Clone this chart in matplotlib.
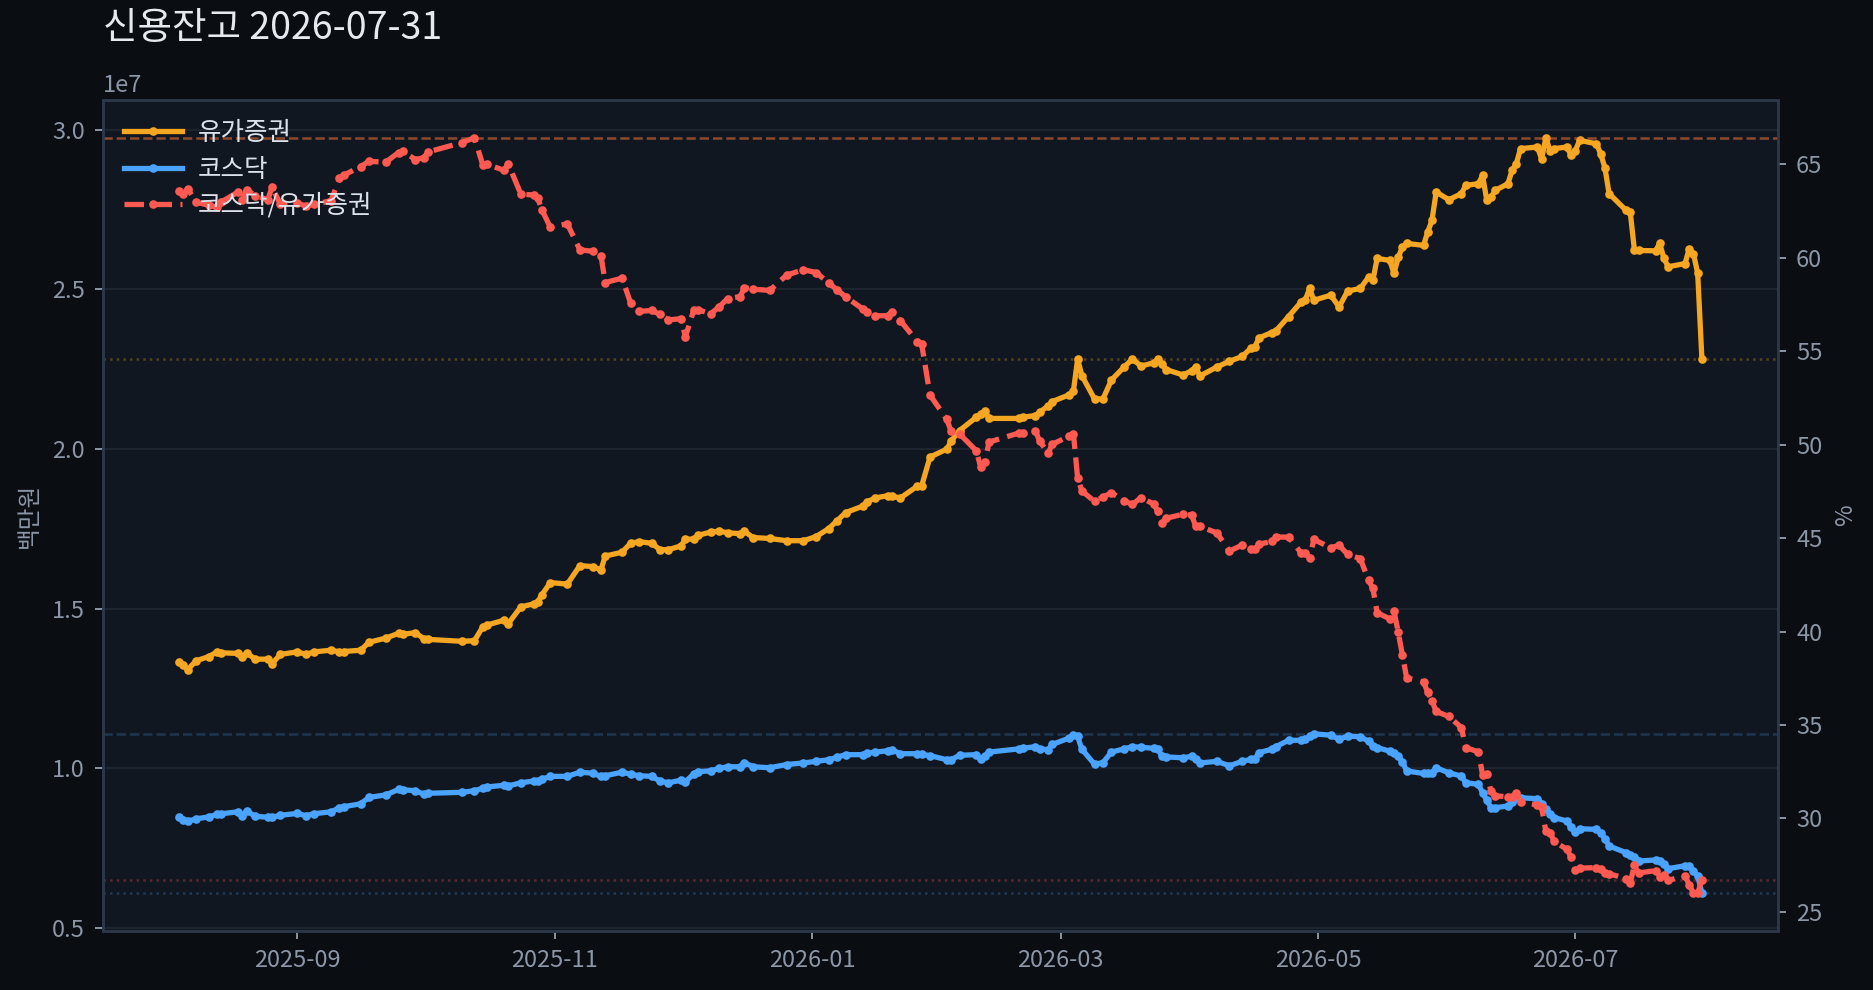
import matplotlib
matplotlib.use("Agg")
import matplotlib.pyplot as plt
import matplotlib.dates as mdates
import numpy as np
import pandas as pd

plt.rcParams['font.family'] = ['Noto Sans CJK KR', 'DejaVu Sans']
plt.rcParams['axes.unicode_minus'] = False

# ---- data (values in 1e7 백만원) ----
dates = [
    "2025-08-04", "2025-08-05", "2025-08-06", "2025-08-08", "2025-08-11", "2025-08-13", "2025-08-14",
    "2025-08-18", "2025-08-19", "2025-08-20", "2025-08-22", "2025-08-25", "2025-08-26", "2025-08-28",
    "2025-09-01", "2025-09-03", "2025-09-05", "2025-09-09", "2025-09-11", "2025-09-12", "2025-09-16",
    "2025-09-18", "2025-09-22", "2025-09-25", "2025-09-26", "2025-09-29", "2025-10-01", "2025-10-02",
    "2025-10-10", "2025-10-13", "2025-10-15", "2025-10-16", "2025-10-20", "2025-10-21", "2025-10-24",
    "2025-10-27", "2025-10-28", "2025-10-29", "2025-10-31", "2025-11-04", "2025-11-07", "2025-11-10",
    "2025-11-12", "2025-11-13", "2025-11-17", "2025-11-19", "2025-11-21", "2025-11-24", "2025-11-26",
    "2025-11-28", "2025-12-01", "2025-12-02", "2025-12-04", "2025-12-05", "2025-12-08", "2025-12-10",
    "2025-12-12", "2025-12-15", "2025-12-16", "2025-12-18", "2025-12-22", "2025-12-26", "2025-12-30",
    "2026-01-02", "2026-01-05", "2026-01-07", "2026-01-09", "2026-01-13", "2026-01-14", "2026-01-16",
    "2026-01-19", "2026-01-20", "2026-01-22", "2026-01-26", "2026-01-27", "2026-01-29", "2026-02-02",
    "2026-02-03", "2026-02-05", "2026-02-09", "2026-02-10", "2026-02-11", "2026-02-12", "2026-02-19",
    "2026-02-20", "2026-02-23", "2026-02-24", "2026-02-26", "2026-02-27", "2026-03-03", "2026-03-04",
    "2026-03-05", "2026-03-06", "2026-03-09", "2026-03-11", "2026-03-13", "2026-03-16", "2026-03-18",
    "2026-03-20", "2026-03-23", "2026-03-24", "2026-03-25", "2026-03-26", "2026-03-30", "2026-04-01",
    "2026-04-02", "2026-04-03", "2026-04-07", "2026-04-10", "2026-04-13", "2026-04-15", "2026-04-16",
    "2026-04-17", "2026-04-20", "2026-04-21", "2026-04-24", "2026-04-27", "2026-04-28", "2026-04-29",
    "2026-04-30", "2026-05-04", "2026-05-06", "2026-05-08", "2026-05-11", "2026-05-13", "2026-05-14",
    "2026-05-15", "2026-05-18", "2026-05-19", "2026-05-20", "2026-05-21", "2026-05-22", "2026-05-26",
    "2026-05-27", "2026-05-28", "2026-05-29", "2026-06-01", "2026-06-04", "2026-06-05", "2026-06-08",
    "2026-06-09", "2026-06-10", "2026-06-11", "2026-06-12", "2026-06-15", "2026-06-16", "2026-06-17",
    "2026-06-18", "2026-06-22", "2026-06-23", "2026-06-24", "2026-06-25", "2026-06-26", "2026-06-29",
    "2026-06-30", "2026-07-01", "2026-07-02", "2026-07-06", "2026-07-07", "2026-07-08", "2026-07-09",
    "2026-07-13", "2026-07-14", "2026-07-15", "2026-07-16", "2026-07-20", "2026-07-21", "2026-07-22",
    "2026-07-23", "2026-07-27", "2026-07-28", "2026-07-29", "2026-07-30", "2026-07-31",
]

kospi_e7 = [
    1.332, 1.323, 1.309, 1.337, 1.350, 1.365, 1.362,
    1.360, 1.350, 1.362, 1.342, 1.342, 1.328, 1.357,
    1.365, 1.357, 1.365, 1.370, 1.365, 1.366, 1.370,
    1.395, 1.408, 1.423, 1.420, 1.425, 1.406, 1.404,
    1.398, 1.400, 1.444, 1.449, 1.464, 1.453, 1.506,
    1.515, 1.522, 1.544, 1.582, 1.577, 1.635, 1.632,
    1.622, 1.665, 1.677, 1.705, 1.710, 1.705, 1.685,
    1.685, 1.697, 1.718, 1.718, 1.730, 1.740, 1.743,
    1.738, 1.735, 1.743, 1.723, 1.720, 1.713, 1.713,
    1.726, 1.751, 1.776, 1.801, 1.821, 1.834, 1.847,
    1.854, 1.852, 1.847, 1.884, 1.884, 1.975, 2.000,
    2.025, 2.058, 2.100, 2.110, 2.119, 2.096, 2.096,
    2.100, 2.105, 2.116, 2.135, 2.149, 2.170, 2.182,
    2.282, 2.230, 2.157, 2.157, 2.216, 2.257, 2.282,
    2.260, 2.270, 2.282, 2.265, 2.249, 2.232, 2.245,
    2.257, 2.229, 2.257, 2.275, 2.290, 2.315, 2.320,
    2.348, 2.365, 2.370, 2.415, 2.461, 2.468, 2.503,
    2.466, 2.482, 2.445, 2.495, 2.503, 2.539, 2.529,
    2.597, 2.591, 2.550, 2.600, 2.633, 2.644, 2.638,
    2.680, 2.716, 2.805, 2.781, 2.800, 2.826, 2.831,
    2.857, 2.779, 2.789, 2.810, 2.831, 2.873, 2.894,
    2.941, 2.946, 2.909, 2.975, 2.935, 2.941, 2.946,
    2.920, 2.935, 2.967, 2.956, 2.925, 2.881, 2.800,
    2.748, 2.743, 2.623, 2.622, 2.621, 2.644, 2.597,
    2.571, 2.581, 2.628, 2.612, 2.550, 2.281,
]

kosdaq_e7 = [
    0.847, 0.839, 0.834, 0.842, 0.848, 0.856, 0.858,
    0.864, 0.852, 0.867, 0.850, 0.847, 0.847, 0.853,
    0.859, 0.852, 0.858, 0.864, 0.877, 0.880, 0.889,
    0.909, 0.917, 0.934, 0.933, 0.930, 0.919, 0.922,
    0.925, 0.930, 0.938, 0.942, 0.947, 0.945, 0.955,
    0.960, 0.962, 0.966, 0.975, 0.975, 0.988, 0.985,
    0.975, 0.977, 0.988, 0.982, 0.977, 0.975, 0.960,
    0.955, 0.963, 0.958, 0.983, 0.990, 0.992, 1.000,
    1.005, 1.005, 1.018, 1.005, 1.002, 1.012, 1.017,
    1.022, 1.027, 1.035, 1.043, 1.043, 1.047, 1.051,
    1.055, 1.058, 1.046, 1.046, 1.044, 1.040, 1.027,
    1.027, 1.041, 1.043, 1.030, 1.040, 1.051, 1.061,
    1.063, 1.068, 1.062, 1.058, 1.075, 1.095, 1.104,
    1.100, 1.060, 1.013, 1.018, 1.051, 1.061, 1.068,
    1.066, 1.063, 1.060, 1.038, 1.036, 1.033, 1.038,
    1.030, 1.017, 1.022, 1.008, 1.022, 1.028, 1.030,
    1.049, 1.060, 1.068, 1.088, 1.088, 1.091, 1.100,
    1.108, 1.104, 1.091, 1.101, 1.099, 1.085, 1.070,
    1.065, 1.054, 1.048, 1.039, 1.020, 0.992, 0.984,
    0.985, 0.986, 1.002, 0.986, 0.976, 0.955, 0.950,
    0.924, 0.900, 0.877, 0.877, 0.882, 0.895, 0.908,
    0.908, 0.905, 0.890, 0.872, 0.858, 0.846, 0.835,
    0.815, 0.800, 0.811, 0.809, 0.799, 0.780, 0.757,
    0.736, 0.728, 0.721, 0.710, 0.713, 0.710, 0.700,
    0.686, 0.695, 0.695, 0.679, 0.663, 0.609,
]

labels = ["유가증권", "코스닥", "코스닥/유가증권"]
title = "신용잔고 2026-07-31"

# ---- colours ----
FIG_BG = "#0a0d12"
AX_BG = "#111720"
SPINE = "#2c3848"
TICK = "#8b96a6"
GRID = "#1d2531"
C_KOSPI = "#f5a623"
C_KOSDAQ = "#4aa3ff"
C_RATIO = "#ff5a52"

x = pd.to_datetime(dates)
kospi = np.array(kospi_e7) * 1e7
kosdaq = np.array(kosdaq_e7) * 1e7
ratio = kosdaq / kospi * 100

fig = plt.figure(figsize=(9.37, 4.95), dpi=200, facecolor=FIG_BG)
ax1 = fig.add_axes([0.055, 0.0596, 0.8938, 0.8394])
ax1.set_facecolor(AX_BG)
ax2 = ax1.twinx()

l1, = ax1.plot(x, kospi, color=C_KOSPI, lw=1.9, marker='o', ms=2.1, label=labels[0], zorder=3)
l2, = ax1.plot(x, kosdaq, color=C_KOSDAQ, lw=1.9, marker='o', ms=2.1, label=labels[1], zorder=3)
l3, = ax2.plot(x, ratio, color=C_RATIO, lw=1.9, ls='--', marker='o', ms=2.1, label=labels[2], zorder=3)

# reference lines: max (dashed) and last (dotted)
ax1.axhline(kospi.max(), color=C_KOSPI, lw=0.9, ls='--', alpha=0.3, zorder=1)
ax1.axhline(kospi[-1], color=C_KOSPI, lw=0.9, ls=':', alpha=0.3, zorder=1)
ax1.axhline(kosdaq.max(), color=C_KOSDAQ, lw=0.9, ls='--', alpha=0.22, zorder=1)
ax1.axhline(kosdaq[-1], color=C_KOSDAQ, lw=0.9, ls=':', alpha=0.25, zorder=1)
ax2.axhline(ratio.max(), color=C_RATIO, lw=0.9, ls='--', alpha=0.3, zorder=1)
ax2.axhline(ratio[-1], color=C_RATIO, lw=0.9, ls=':', alpha=0.3, zorder=1)

ax1.grid(axis='y', color=GRID, lw=0.8)
ax1.set_axisbelow(True)

for ax in (ax1, ax2):
    for s in ax.spines.values():
        s.set_color(SPINE)
        s.set_linewidth(0.9)
    ax.tick_params(colors=TICK, labelsize=8.5, length=3, width=0.7)

ax1.yaxis.get_offset_text().set_color(TICK)
ax1.yaxis.get_offset_text().set_fontsize(8.5)

ax1.xaxis.set_major_locator(mdates.MonthLocator(bymonth=[1, 3, 5, 7, 9, 11]))
ax1.xaxis.set_major_formatter(mdates.DateFormatter('%Y-%m'))

ax1.set_ylabel("백만원", color=TICK, fontsize=8.5, labelpad=4)
ax2.set_ylabel("%", color=TICK, fontsize=8.5)

ax1.set_title(title, loc='left', color="#e6eaf0", fontsize=13.5, pad=22)

leg = ax2.legend(handles=[l1, l2, l3], loc='upper left', frameon=False, fontsize=9.2,
                 labelcolor="#dde2ea", handlelength=2.3, handletextpad=0.6,
                 borderaxespad=0.4, labelspacing=0.4)

fig.savefig("out.png", dpi=200, facecolor=FIG_BG)
